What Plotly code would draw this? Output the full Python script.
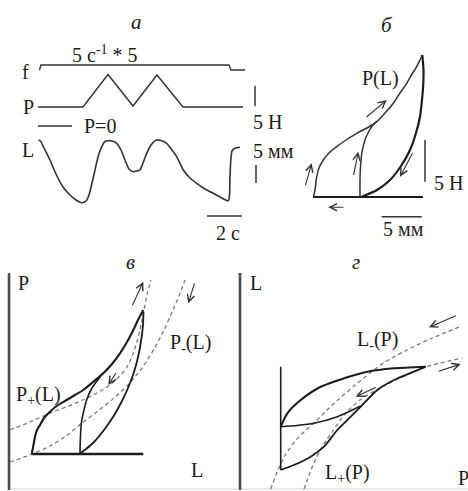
import plotly.graph_objects as go

FONT = "Liberation Serif, Times New Roman, DejaVu Serif, serif"
INK = "#1c1c1c"
LINE = "#333333"
DASH = "#7a7a7a"
AXIS = "#4a4a4a"

# ---------------- panel а : records against time ----------------
a_f_t = [1.5, 3, 191, 193, 207]
a_f_v = [150, 155, 155, 150, 150]
a_p_t = [0, 45, 70, 95, 119, 145, 205]
a_p_v = [113, 113, 145.5, 114, 145, 113, 113]
a_zero_t = [0, 34]
a_zero_v = [94, 94]
a_l_t = [0.5, 2.5, 6, 12, 18, 25, 32, 38, 43.7, 48, 51, 54, 57, 60, 63.7, 67,
         70.3, 74, 78.7, 83, 87, 91, 95.3, 99, 102, 105, 108.7, 113, 118.7, 123,
         128.7, 134, 138.7, 145.3, 152, 158.7, 167, 175.3, 183, 190.3, 191.5,
         192, 193, 194, 197, 202]
a_l_v = [80, 79, 72, 60, 46, 33, 25, 20, 17.3, 19, 25, 37, 50, 63, 73.3, 78.5,
         79.3, 79, 76.7, 70, 60, 51, 48.3, 49, 50, 57, 66.7, 75, 80, 79.5,
         76.7, 70, 63.3, 50, 42, 36.7, 31, 26.7, 22.5, 19.3, 25,
         43.3, 62, 69, 71.7, 72.7]
a_bar_force_t = [217, 217]
a_bar_force_v = [114, 134]
a_bar_len_t = [218, 218]
a_bar_len_v = [37, 55]
a_bar_time_t = [169, 204]
a_bar_time_v = [4, 4]

# ---------------- panel б : force against length ----------------
b_base_l = [0, 110]
b_base_p = [0, 0]
b_outer_l = [0.5, 2, 3.7, 6, 10.3, 16, 23.7, 33, 43.7, 54, 63.7, 72, 80.3, 87,
             93.7, 99, 103.7, 107, 109.3]
b_outer_p = [0.3, 7, 20.3, 29, 37, 44, 50.3, 57, 63.7, 69, 75.3, 84, 93.7, 104,
             113.7, 123, 130.3, 137, 142]
b_inner_l = [47, 47, 47.5, 49, 52, 56, 60, 63.7]
b_inner_p = [0.3, 17, 30.3, 45, 57, 66, 72, 75.3]
b_back_l = [109.3, 110.5, 110.3, 109, 107, 103, 97, 88, 77, 64, 48.7]
b_back_p = [142, 127, 113.7, 97, 80.3, 64, 47, 31, 17, 7, 0.3]
b_bar_force_l = [112, 112]
b_bar_force_p = [15.3, 57]
b_bar_len_l = [68.7, 108.7]
b_bar_len_p = [-19.7, -19.7]

# ---------------- panel в : P(L) loop with branches ----------------
c_axis_l = [0, 0]
c_axis_p = [0, 217]
c_floor_l = [0, 228]
c_floor_p = [1, 1]
c_base_l = [22.7, 134.3]
c_base_p = [36, 36]
c_outer_l = [22.7, 24.3, 26, 28, 31, 35, 41, 49, 57.7, 66, 74.3, 84, 94.3, 103,
             111, 118, 124.3, 129, 134.3]
c_outer_p = [36, 44, 53.3, 60, 65, 72, 78.3, 85, 90, 95, 100, 108, 116.7, 126,
             136.7, 148, 160, 170, 180]
c_inner_l = [71, 71.3, 72.5, 75, 78, 83, 91, 94.3]
c_inner_p = [36, 50, 68, 80, 91, 102, 113, 117]
c_back_l = [134.5, 134, 132.5, 129.5, 125, 119, 112, 104, 95, 85, 77, 71]
c_back_p = [178, 165, 152, 135, 118, 102, 87, 73, 60, 48, 41, 36.5]
c_plus_l = [1, 21, 39, 57, 74, 88, 101, 110, 118, 124, 128.5, 132, 135, 138, 142]
c_plus_p = [60, 68, 76, 83, 90, 97, 105, 113, 123, 136, 150, 165, 180, 195, 210]
c_minus_l = [1, 21, 41, 57, 73, 89, 105, 119, 133, 145, 155, 163, 170, 176]
c_minus_p = [28, 35, 44, 54, 67, 79, 92, 105, 122, 141, 160, 178, 194, 210]

# ---------------- panel г : L(P) loop with branches ----------------
d_axis_p = [0, 0]
d_axis_l = [0, 217]
d_floor_p = [0, 228]
d_floor_l = [1, 1]
d_stem_p = [40.7, 40.7]
d_stem_l = [20, 123.3]
d_lower_p = [40.7, 54, 70.7, 84, 97.3, 110.7, 120.7, 137.3, 154, 174, 185.7]
d_lower_l = [20, 25, 33.3, 43.3, 60, 73.3, 83.3, 100, 110, 118.3, 123.3]
d_upper_p = [40.7, 47.3, 60.7, 80.7, 104, 127.3, 154, 185.7]
d_upper_l = [63.3, 76.7, 90, 103.3, 111.7, 118.3, 121.7, 123.3]
d_mid_p = [40.7, 57, 74, 97.3, 120.7]
d_mid_l = [63.3, 64.5, 66.7, 73.3, 84]
d_minus_p = [30.7, 38, 46, 56, 66, 74, 86, 100, 114, 130, 145, 165, 190, 222]
d_minus_l = [1, 20, 36, 50, 60, 67, 79, 92, 104, 117, 128, 139, 151, 164]
d_plus_p = [64, 73, 82, 92, 105, 120, 140, 160, 186, 222]
d_plus_l = [1, 25, 43, 58, 76, 90, 102, 112, 123, 132]

# axis frames: (x offset, y offset) of each panel's origin on the 468x491 page
FRAMES = {
    "a": ("x", "y", 38, 220),
    "b": ("x2", "y2", 313, 197),
    "c": ("x3", "y3", 9, 490),
    "d": ("x4", "y4", 240, 490),
}
W, H = 468, 491

fig = go.Figure()


def curve(panel, xs, ys, width=1.6, color=LINE, dash=None, shape="spline",
          smoothing=0.7):
    xr, yr = FRAMES[panel][0], FRAMES[panel][1]
    ln = dict(color=color, width=width, shape=shape)
    if shape == "spline":
        ln["smoothing"] = smoothing
    if dash:
        ln["dash"] = dash
    fig.add_trace(go.Scatter(x=xs, y=ys, mode="lines", line=ln,
                             xaxis=xr, yaxis=yr, hoverinfo="skip",
                             showlegend=False))


annotations = []


def label(panel, x, y, text, size=20, italic=False):
    xr, yr = FRAMES[panel][0], FRAMES[panel][1]
    if italic:
        text = "<i>" + text + "</i>"
    annotations.append(dict(x=x, y=y, xref=xr, yref=yr, text=text,
                            showarrow=False,
                            font=dict(family=FONT, size=size, color=INK),
                            xanchor="center", yanchor="middle"))


def arrow(panel, x0, y0, x1, y1):
    xr, yr = FRAMES[panel][0], FRAMES[panel][1]
    annotations.append(dict(x=x1, y=y1, ax=x0, ay=y0, xref=xr, yref=yr,
                            axref=xr, ayref=yr, text="", showarrow=True,
                            arrowhead=5, arrowsize=1.3, arrowwidth=1.1,
                            arrowcolor=LINE, font=dict(size=10)))


# --- а
curve("a", a_f_t, a_f_v, shape="linear", width=1.4)
curve("a", a_p_t, a_p_v, shape="linear", width=1.4)
curve("a", a_zero_t, a_zero_v, shape="linear", width=1.4)
curve("a", a_l_t, a_l_v, width=1.6, smoothing=0.6)
curve("a", a_bar_force_t, a_bar_force_v, shape="linear", width=1.5)
curve("a", a_bar_len_t, a_bar_len_v, shape="linear", width=1.5)
curve("a", a_bar_time_t, a_bar_time_v, shape="linear", width=1.5)
label("a", 98, 198, "а", size=21, italic=True)
label("a", 67, 166, "5 с<sup>-1</sup> * 5")
label("a", -13, 148, "f")
label("a", -10, 113, "P")
label("a", -10, 70, "L")
label("a", 62, 94, "P=0")
label("a", 229, 98, "5 Н")
label("a", 235, 69, "5 мм")
label("a", 190, -13, "2 с")

# --- б
curve("b", b_base_l, b_base_p, shape="linear", width=2.2, color=INK)
curve("b", b_outer_l, b_outer_p, width=1.5)
curve("b", b_inner_l, b_inner_p, width=1.5)
curve("b", b_back_l, b_back_p, width=2.2, color=INK)
curve("b", b_bar_force_l, b_bar_force_p, shape="linear", width=1.5)
curve("b", b_bar_len_l, b_bar_len_p, shape="linear", width=1.5)
label("b", 73.7, 172, "б", size=21, italic=True)
label("b", 67, 119, "P(L)")
label("b", 135, 14.5, "5 Н")
label("b", 90, -32, "5 мм")
arrow("b", -8, 10.3, -1.3, 33.7)
arrow("b", 40.3, 20.3, 45.3, 45.3)
arrow("b", 52, 78.7, 73.7, 97)
arrow("b", 100.3, 45.3, 87, 20.3)
arrow("b", 32, -10.3, 15.3, -10.3)

# --- в
curve("c", c_floor_l, c_floor_p, shape="linear", width=1, color="#cfcfcf")
curve("c", c_axis_l, c_axis_p, shape="linear", width=2.6, color=AXIS)
curve("c", c_plus_l, c_plus_p, width=1.3, color=DASH, dash="4px,3px")
curve("c", c_minus_l, c_minus_p, width=1.3, color=DASH, dash="4px,3px")
curve("c", c_base_l, c_base_p, shape="linear", width=2.6, color=INK)
curve("c", c_outer_l, c_outer_p, width=2.1, color=INK)
curve("c", c_inner_l, c_inner_p, width=1.6, color=INK)
curve("c", c_back_l, c_back_p, width=1.8, color=INK)
label("c", 121, 228, "в", size=21, italic=True)
label("c", 14, 207, "P")
label("c", 188, 20, "L")
label("c", 29, 95, "P<sub>+</sub>(L)")
label("c", 181, 147, "P<sub>-</sub>(L)")
arrow("c", 122.7, 183.3, 134.3, 208.3)
arrow("c", 186, 208.3, 179.3, 186.7)
arrow("c", 107.7, 118.3, 99.3, 105)

# --- г
curve("d", d_floor_p, d_floor_l, shape="linear", width=1, color="#cfcfcf")
curve("d", d_axis_p, d_axis_l, shape="linear", width=2.6, color=AXIS)
curve("d", d_minus_p, d_minus_l, width=1.3, color=DASH, dash="4px,3px")
curve("d", d_plus_p, d_plus_l, width=1.3, color=DASH, dash="4px,3px")
curve("d", d_stem_p, d_stem_l, shape="linear", width=1.6, color=INK)
curve("d", d_lower_p, d_lower_l, width=1.8, color=INK)
curve("d", d_upper_p, d_upper_l, width=2.1, color=INK)
curve("d", d_mid_p, d_mid_l, width=1.6, color=INK)
label("d", 116, 228, "г", size=21, italic=True)
label("d", 16, 207, "L")
label("d", 223, 12, "P")
label("d", 137, 150, "L<sub>-</sub>(P)")
label("d", 107, 17, "L<sub>+</sub>(P)")
arrow("d", 217.3, 175, 189, 162.7)
arrow("d", 197.3, 118.3, 220.7, 126)
arrow("d", 137.3, 103.3, 115.7, 93.3)

layout = dict(width=W, height=H, margin=dict(l=0, r=0, t=0, b=0),
              paper_bgcolor="white", plot_bgcolor="rgba(0,0,0,0)",
              annotations=annotations, showlegend=False,
              font=dict(family=FONT, color=INK))
for i, (key, (xr, yr, ox, oy)) in enumerate(FRAMES.items()):
    sfx = "" if i == 0 else str(i + 1)
    layout["xaxis" + sfx] = dict(domain=[0, 1], range=[-ox, W - ox],
                                 visible=False, fixedrange=True,
                                 anchor="y" + sfx)
    layout["yaxis" + sfx] = dict(domain=[0, 1], range=[oy - H, oy],
                                 visible=False, fixedrange=True,
                                 anchor="x" + sfx)
fig.update_layout(**layout)
fig.write_html("out.html", config={"displayModeBar": False})
